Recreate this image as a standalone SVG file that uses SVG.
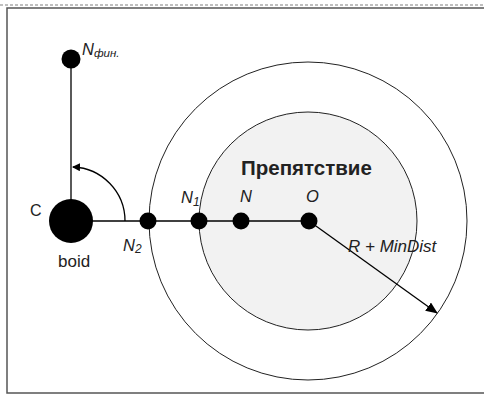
<svg xmlns="http://www.w3.org/2000/svg" width="484" height="400" viewBox="0 0 484 400">
<defs>
<style>
.frame{fill:none;stroke:#555;stroke-width:1.5}
.circ{stroke:#222;stroke-width:1}
.ln{stroke:#000;stroke-width:1.3;fill:none}
.dot{fill:#000}
.lbl{font-family:"Liberation Sans",Arial,sans-serif;fill:#222}
.it{font-style:italic}
</style>
<marker id="ah" markerWidth="12" markerHeight="10" refX="11" refY="5" orient="auto" markerUnits="userSpaceOnUse">
<path d="M0,0 L12,5 L0,10 Z" fill="#000"/>
</marker>
<marker id="ah2" markerWidth="8" markerHeight="8" refX="7" refY="4" orient="auto" markerUnits="userSpaceOnUse">
<path d="M0,0 L8,4 L0,8 Z" fill="#000"/>
</marker>
</defs>
<rect width="484" height="400" fill="#fff"/>
<line x1="0" y1="5" x2="484" y2="5" stroke="#aaa" stroke-width="1.5" stroke-dasharray="3,2"/>
<path class="frame" d="M484,8 H7 V393 H484"/>
<g id="outer-circle"><circle class="circ" cx="308" cy="221" r="159" fill="#fff"/></g>
<g id="obstacle"><circle class="circ" cx="308" cy="221" r="109" fill="#f2f2f2"/>
<text class="lbl" x="241" y="175" font-size="20.5" font-weight="bold" fill="#111">Препятствие</text></g>
<g id="connectors">
<line class="ln" x1="71" y1="59" x2="71" y2="221"/>
<line class="ln" x1="71" y1="221" x2="309" y2="221"/>
<path class="ln" d="M125,221 A54,54 0 0 0 73,167" marker-end="url(#ah2)" stroke-width="1.1"/>
<line class="ln" x1="309" y1="221" x2="437" y2="313" stroke-width="1" marker-end="url(#ah)"/>
</g>
<g id="boid"><circle class="dot" cx="71" cy="221" r="22"/>
<text class="lbl" x="30" y="216" font-size="16" fill="#444">C</text>
<text class="lbl" x="58" y="267" font-size="17">boid</text></g>
<g id="n-fin"><circle class="dot" cx="71" cy="59" r="9.5"/>
<text class="lbl it" x="82" y="55" font-size="16.5">N<tspan font-size="11.5" dy="2">фин.</tspan></text></g>
<g id="n2"><circle class="dot" cx="148" cy="221" r="8.5"/>
<text class="lbl it" x="123" y="251" font-size="16.5">N<tspan font-size="12" dy="2">2</tspan></text></g>
<g id="n1"><circle class="dot" cx="199" cy="221" r="8.5"/>
<text class="lbl it" x="181" y="203" font-size="16.5">N<tspan font-size="12" dy="3">1</tspan></text></g>
<g id="n"><circle class="dot" cx="241" cy="221" r="8.5"/>
<text class="lbl it" x="240" y="202" font-size="16.5">N</text></g>
<g id="o"><circle class="dot" cx="309" cy="221" r="8.5"/>
<text class="lbl it" x="306" y="202" font-size="16.5">O</text></g>
<g id="radius-label"><text class="lbl it" x="348" y="252" font-size="17">R + MinDist</text></g>
</svg>
